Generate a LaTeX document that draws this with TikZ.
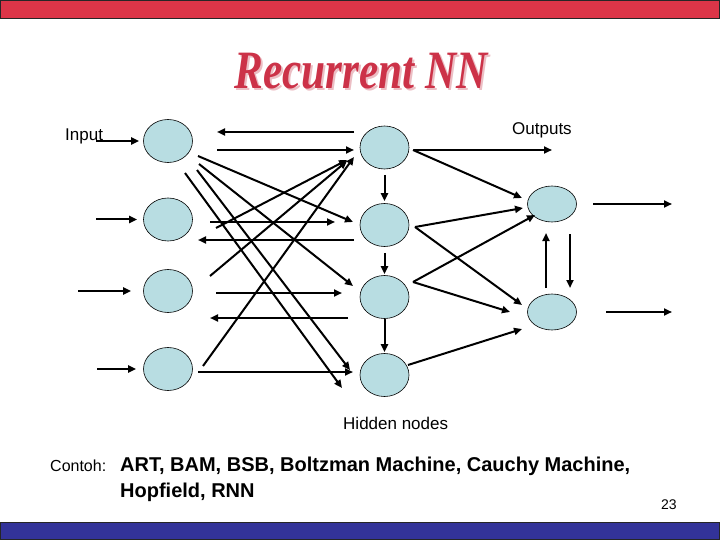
\documentclass[tikz,border=0pt]{standalone}
\usepackage{fontspec}
\setmainfont{Liberation Sans}
\newfontfamily\titlefont{Liberation Serif}
\usetikzlibrary{arrows.meta,shapes.geometric}
\definecolor{barred}{RGB}{220,53,72}
\definecolor{barblue}{RGB}{51,51,153}
\definecolor{titlered}{RGB}{204,50,72}
\definecolor{titleshadow}{RGB}{236,190,196}
\definecolor{nodefill}{RGB}{184,221,226}
\tikzset{
  neuron/.style={ellipse, draw=black, line width=0.6pt, fill=nodefill, minimum width=49pt, minimum height=43pt, inner sep=0pt},
  outneuron/.style={neuron, minimum height=36pt},
  arr/.style={-{Triangle[length=8pt,width=7pt]}, line width=2pt},
  lbl/.style={font=\fontsize{17}{20}\selectfont, inner sep=0pt},
  boldlbl/.style={font=\bfseries\fontsize{20}{24}\selectfont, inner sep=0pt},
}
\begin{document}
\begin{tikzpicture}[x=1pt,y=-1pt]
\useasboundingbox (0,0) rectangle (720,540);
\fill[white] (0,0) rectangle (720,540);
% bars
\filldraw[fill=barred, draw=black!85, line width=0.8pt] (0.4,0.4) rectangle (719.6,18);
\filldraw[fill=barblue, draw=black!85, line width=0.8pt] (0.4,522) rectangle (719.6,539.6);
% title
\node[anchor=base, text=titleshadow, inner sep=0pt, font=\titlefont\bfseries\itshape\fontsize{54}{54}\selectfont] (titleshadow) at (363,91) {\scalebox{0.8}[1]{Recurrent NN}};
\node[anchor=base, text=titlered, inner sep=0pt, font=\titlefont\bfseries\itshape\fontsize{54}{54}\selectfont] (title) at (361,89) {\scalebox{0.8}[1]{Recurrent NN}};
% neurons
\node[neuron] (in1) at (168,141) {};
\node[neuron] (in2) at (168,219.5) {};
\node[neuron] (in3) at (168,291) {};
\node[neuron] (in4) at (168,369) {};
\node[neuron] (h1) at (384.5,147.5) {};
\node[neuron] (h2) at (384.5,225) {};
\node[neuron] (h3) at (384.5,297) {};
\node[neuron] (h4) at (384.5,375) {};
\node[outneuron] (o1) at (552,204) {};
\node[outneuron] (o2) at (552,312) {};
% labels
\node[lbl, anchor=base west] (inputlbl) at (65,141) {Input};
\node[lbl, anchor=base west] (outputslbl) at (512,135) {Outputs};
\node[lbl, anchor=base west] (hiddenlbl) at (343,429) {Hidden nodes};
\node[anchor=base west, inner sep=0pt, font=\fontsize{16}{19}\selectfont] (contoh) at (50,471) {Contoh:};
\node[boldlbl, anchor=base west] (examples1) at (120,471) {ART, BAM, BSB, Boltzman Machine, Cauchy Machine,};
\node[boldlbl, anchor=base west] (examples2) at (120,497) {Hopfield, RNN};
\node[anchor=base west, inner sep=0pt, font=\fontsize{14}{16}\selectfont] (pagenum) at (661,509) {23};
% free ends
\coordinate (ia1) at (96,141);
\coordinate (ia2) at (96,219.5);
\coordinate (ia3) at (78,291);
\coordinate (ia4) at (97,369);
\coordinate (m1s) at (354,132); \coordinate (m1e) at (217,132);
\coordinate (m2s) at (217,150); \coordinate (m2e) at (354,150);
\coordinate (m3s) at (210,222); \coordinate (m3e) at (335,222);
\coordinate (m4s) at (354,240); \coordinate (m4e) at (198,240);
\coordinate (m5s) at (216,293); \coordinate (m5e) at (342,293);
\coordinate (m6s) at (348,318); \coordinate (m6e) at (210,318);
\coordinate (m7s) at (198,372); \coordinate (m7e) at (353,372);
\coordinate (d1s) at (198,156); \coordinate (d1e) at (353,222);
\coordinate (d2s) at (199,164); \coordinate (d2e) at (353,286);
\coordinate (d3s) at (197,170); \coordinate (d3e) at (350,370);
\coordinate (d4s) at (185,173); \coordinate (d4e) at (342,388);
\coordinate (u1s) at (216,228); \coordinate (u1e) at (347,160);
\coordinate (u2s) at (210,276); \coordinate (u2e) at (347,161);
\coordinate (u3s) at (203,366); \coordinate (u3e) at (354,157);
\coordinate (out1s) at (414,150); \coordinate (out1e) at (552,150);
\coordinate (e2s) at (413,150); \coordinate (e2e) at (522,198);
\coordinate (e3s) at (415,227); \coordinate (e3e) at (523,208);
\coordinate (e4e) at (522,305);
\coordinate (e5s) at (413,282); \coordinate (e5e) at (535,215);
\coordinate (e6e) at (510,312);
\coordinate (e7s) at (408,365); \coordinate (e7e) at (522,329);
\coordinate (p1s) at (546,288); \coordinate (p1e) at (546,233);
\coordinate (p2s) at (570,234); \coordinate (p2e) at (570,288);
\coordinate (q1e) at (672,204);
\coordinate (q2e) at (672,312);
% input arrows
\draw[arr, shorten >=4pt] (ia1) -- (in1);
\draw[arr, shorten >=6pt] (ia2) -- (in2);
\draw[arr, shorten >=12pt] (ia3) -- (in3);
\draw[arr, shorten >=7pt] (ia4) -- (in4);
% middle connections
\draw[arr] (m1s) -- (m1e);
\draw[arr] (m2s) -- (m2e);
\draw[arr] (m3s) -- (m3e);
\draw[arr] (m4s) -- (m4e);
\draw[arr] (m5s) -- (m5e);
\draw[arr] (m6s) -- (m6e);
\draw[arr] (m7s) -- (m7e);
\draw[arr] (d1s) -- (d1e);
\draw[arr] (d2s) -- (d2e);
\draw[arr] (d3s) -- (d3e);
\draw[arr] (d4s) -- (d4e);
\draw[arr] (u1s) -- (u1e);
\draw[arr] (u2s) -- (u2e);
\draw[arr] (u3s) -- (u3e);
% hidden chain
\draw[arr, shorten <=5.5pt, shorten >=2pt] (h1) -- (h2);
\draw[arr, shorten <=6pt, shorten >=1pt] (h2) -- (h3);
\draw[arr, shorten >=1pt] (h3) -- (h4);
% hidden to output
\draw[arr] (out1s) -- (out1e);
\draw[arr] (e2s) -- (e2e);
\draw[arr] (e3s) -- (e3e);
\draw[arr] (e3s) -- (e4e);
\draw[arr] (e5s) -- (e5e);
\draw[arr] (e5s) -- (e6e);
\draw[arr] (e7s) -- (e7e);
% output recurrences
\draw[arr] (p1s) -- (p1e);
\draw[arr] (p2s) -- (p2e);
\draw[arr, shorten <=16.5pt] (o1) -- (q1e);
\draw[arr, shorten <=29.5pt] (o2) -- (q2e);
\end{tikzpicture}
\end{document}
